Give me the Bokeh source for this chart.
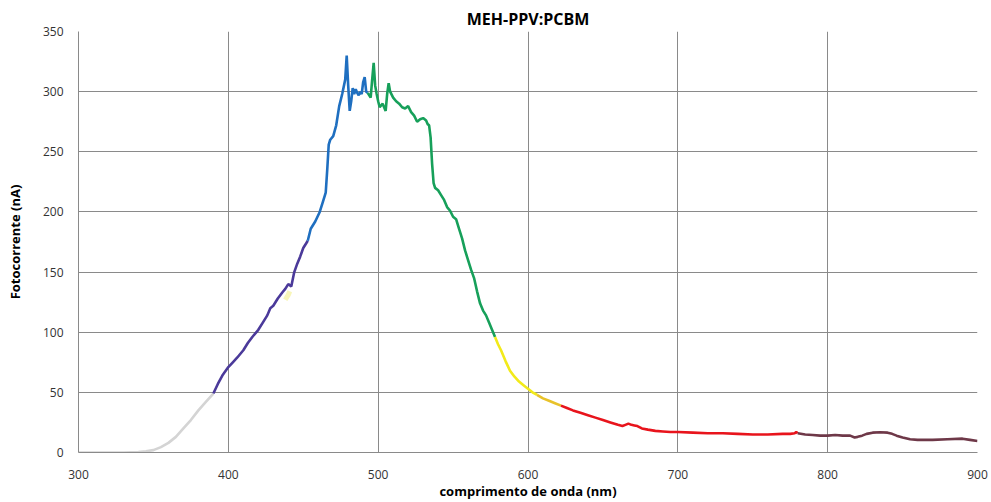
from bokeh.plotting import figure
from bokeh.models import Range1d, FixedTicker
from bokeh.embed import file_html
from bokeh.resources import INLINE

# ---- data ----
wl_gray = [300, 310, 320, 330, 340, 345, 350, 355, 360, 365, 370, 375, 380, 385, 390]
pc_gray = [0, 0, 0, 0, 0.3, 1, 2, 4.5, 8, 13, 20, 27, 35, 42, 49]

wl_purple = [390, 393, 396, 400, 403, 406, 410, 413, 416, 420, 423, 426, 428, 430, 433,
             436, 438, 440, 442, 444, 446, 448, 450, 452, 453]
pc_purple = [49, 57, 64, 71, 75, 79, 85, 91, 96, 102, 108, 114, 120, 122, 128,
             133, 136, 140, 138, 150, 157, 163, 170, 174, 176]

wl_blob = [438, 440, 441]
pc_blob = [127, 131, 134]

wl_blue = [453, 455, 458, 461, 463, 465, 466, 467, 468, 470, 472, 474, 476, 478, 479,
           480, 481, 482, 483, 484, 485, 486, 487, 488, 489, 490, 491, 492, 493]
pc_blue = [176, 186, 192, 200, 208, 216, 235, 256, 260, 263, 272, 288, 298, 310, 330,
           305, 284, 292, 303, 298, 302, 299, 297, 300, 298, 308, 312, 300, 299]

wl_green = [493, 495, 496, 497, 498, 499, 500, 501, 503, 505, 506, 507, 508, 510, 512,
            514, 516, 518, 520, 522, 524, 526, 528, 530, 532, 533, 534, 535, 536, 537,
            538, 540, 542, 544, 546, 548, 550, 552, 554, 556, 558, 560, 562, 564, 566,
            568, 570, 572, 574, 576, 578]
pc_green = [299, 295, 310, 324, 305, 298, 292, 287, 290, 284, 298, 307, 300, 295, 292,
            290, 287, 286, 288, 283, 280, 275, 277, 278, 276, 273, 272, 262, 240, 224,
            220, 218, 214, 210, 204, 201, 196, 194, 186, 178, 168, 160, 152, 145, 134,
            124, 118, 114, 108, 102, 96]

wl_yellow = [578, 580, 582, 585, 588, 591, 594, 597, 600, 603, 606]
pc_yellow = [96, 90, 85, 76, 68, 63, 59, 56, 53, 50, 48]

wl_gold = [606, 610, 614, 618, 622]
pc_gold = [48, 45, 43, 41, 39]

wl_red = [622, 626, 630, 635, 640, 645, 650, 655, 660, 663, 665, 667, 669, 671, 673,
          676, 680, 685, 690, 695, 700, 710, 720, 730, 740, 750, 760, 770, 775, 778,
          779, 780]
pc_red = [39, 37, 35, 33, 31, 29, 27, 25, 23, 22, 23, 24, 23, 22.5, 22,
          20, 19, 18, 17.5, 17, 17, 16.5, 16, 16, 15.5, 15, 15, 15.5, 15.5, 16,
          17, 16]

wl_dark = [780, 785, 790, 795, 800, 805, 810, 815, 818, 820, 823, 826, 830, 835, 840,
           843, 846, 850, 855, 860, 865, 870, 880, 890, 895, 900]
pc_dark = [16, 15, 14.5, 14, 14, 14.5, 14, 14, 12.5, 13, 14, 15.5, 16.5, 16.8, 16.5,
           15.5, 14, 12.5, 11, 10.5, 10.5, 10.5, 11, 11.5, 10.5, 9.5]

x_ticks = [300, 400, 500, 600, 700, 800, 900]
y_ticks = [0, 50, 100, 150, 200, 250, 300, 350]

FONT = "Open Sans"

p = figure(width=991, height=502, output_backend="svg", toolbar_location=None,
           x_range=Range1d(300, 900), y_range=Range1d(0, 350),
           title="MEH-PPV:PCBM",
           min_border_left=78, min_border_right=14, min_border_top=31, min_border_bottom=50)

p.title.align = "center"
p.title.text_font = FONT
p.title.text_font_size = "16px"
p.title.text_font_style = "bold"
p.title.text_color = "#000000"
p.title.standoff = 3
p.title.offset = 0

p.outline_line_color = None
p.background_fill_color = "white"
p.border_fill_color = "white"

for ax, ticks in ((p.xaxis[0], x_ticks), (p.yaxis[0], y_ticks)):
    ax.ticker = FixedTicker(ticks=ticks)
    ax.major_tick_line_color = None
    ax.minor_tick_line_color = None
    ax.major_tick_out = 0
    ax.major_tick_in = 0
    ax.axis_line_color = "#8a8a8a"
    ax.major_label_text_font = FONT
    ax.major_label_text_font_size = "12px"
    ax.major_label_text_color = "#333333"
    ax.axis_label_text_font = FONT
    ax.axis_label_text_font_size = "13px"
    ax.axis_label_text_font_style = "bold"
    ax.axis_label_text_color = "#000000"

p.xaxis.axis_label = "comprimento de onda (nm)"
p.yaxis.axis_label = "Fotocorrente (nA)"
p.xaxis.major_label_standoff = 17
p.xaxis.axis_label_standoff = 0
p.yaxis.major_label_standoff = 15
p.yaxis.axis_label_standoff = 16

p.xgrid.ticker = FixedTicker(ticks=x_ticks)
p.ygrid.ticker = FixedTicker(ticks=y_ticks)
p.grid.grid_line_color = "#8a8a8a"
p.grid.grid_line_width = 1

lw = 2.6
p.line(wl_gray, pc_gray, line_color="#d4d4d4", line_width=lw)
p.line(wl_blob, pc_blob, line_color="#f3f08a", line_width=5, line_alpha=0.6)
p.line(wl_purple, pc_purple, line_color="#4b3a9a", line_width=lw)
p.line(wl_blue, pc_blue, line_color="#1f6fc0", line_width=lw)
p.line(wl_green, pc_green, line_color="#17a05a", line_width=lw)
p.line(wl_yellow, pc_yellow, line_color="#f2ea1a", line_width=lw)
p.line(wl_gold, pc_gold, line_color="#e8c22a", line_width=lw)
p.line(wl_red, pc_red, line_color="#e8141c", line_width=lw)
p.line(wl_dark, pc_dark, line_color="#6e3848", line_width=lw)

open("out.html", "w").write(file_html(p, INLINE))
